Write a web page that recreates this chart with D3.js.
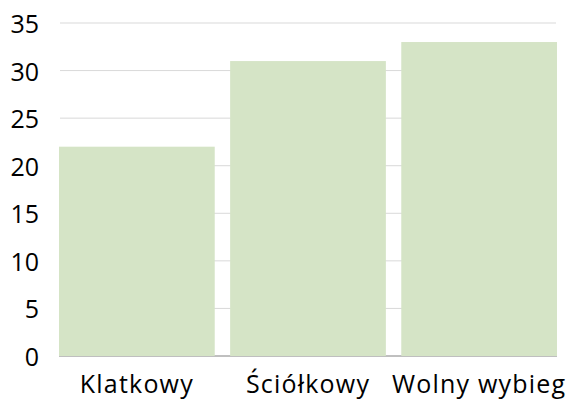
<!DOCTYPE html>
<html>
<head>
<meta charset="utf-8">
<script src="https://cdn.jsdelivr.net/npm/d3@7"></script>
<style>
  body { margin: 0; background: #fff; }
  text { font-family: "Open Sans", sans-serif; fill: #000; }
</style>
</head>
<body>
<div id="chart"></div>
<script>
// data
var categories = ["Klatkowy", "Ściółkowy", "Wolny wybieg"];
var values = [22, 31, 33];
var yTicks = [0, 5, 10, 15, 20, 25, 30, 35];

var W = 570, H = 401;
var margin = {top: 23, right: 13, bottom: 45, left: 59};
var width = W - margin.left - margin.right,
    height = 356 - margin.top;

var svg = d3.select("#chart")
  .append("svg")
    .attr("width", W)
    .attr("height", H)
  .append("g")
    .attr("transform", "translate(" + margin.left + "," + margin.top + ")");

var x = d3.scaleBand()
  .domain(categories)
  .range([0, width])
  .paddingInner(0.09)
  .paddingOuter(0);

var y = d3.scaleLinear()
  .domain([0, 35])
  .range([height, 0]);

// grid lines
svg.append("g")
  .selectAll("line")
  .data(yTicks.slice(1))
  .enter()
  .append("line")
    .attr("x1", 1)
    .attr("x2", width - 1)
    .attr("y1", function(d) { return y(d); })
    .attr("y2", function(d) { return y(d); })
    .attr("stroke", "#d9d9d9")
    .attr("stroke-width", 1);

// baseline
svg.append("line")
  .attr("x1", 0)
  .attr("x2", width)
  .attr("y1", y(0))
  .attr("y2", y(0))
  .attr("stroke", "#808080")
  .attr("stroke-width", 1);

// bars
svg.selectAll(".bar")
  .data(values)
  .enter()
  .append("rect")
    .attr("class", "bar")
    .attr("x", function(d, i) { return x(categories[i]); })
    .attr("width", x.bandwidth())
    .attr("y", function(d) { return y(d); })
    .attr("height", function(d) { return y(0) - y(d); })
    .attr("fill", "#d5e4c6");

// y axis labels
var yAxis = svg.append("g")
  .attr("transform", "translate(-20,0)")
  .call(d3.axisLeft(y).tickValues(yTicks).tickSize(0).tickPadding(0));
yAxis.select(".domain").remove();
yAxis.selectAll("text")
  .style("font-size", "25px")
  .style("font-family", "'Open Sans', sans-serif")
  .attr("dy", "0.38em");

// x axis labels
var xAxis = svg.append("g")
  .attr("transform", "translate(0," + height + ")")
  .call(d3.axisBottom(x).tickSize(0).tickPadding(0));
xAxis.select(".domain").remove();
xAxis.selectAll("text")
  .attr("y", 37)
  .attr("dy", 0)
  .style("font-size", "25px")
  .style("letter-spacing", "1.2px")
  .style("font-family", "'Open Sans', sans-serif");
</script>
</body>
</html>
